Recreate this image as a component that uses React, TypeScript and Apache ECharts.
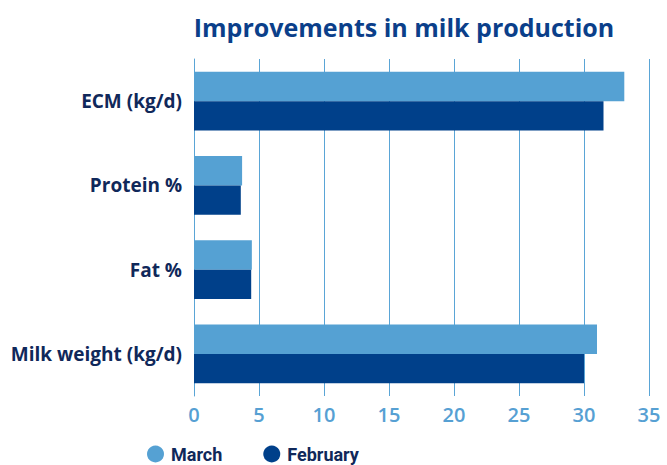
import React, { useEffect, useRef } from "react";
import * as echarts from "echarts";

const categories = ["Milk weight (kg/d)", "Fat %", "Protein %", "ECM (kg/d)"];
const march = [31.0, 4.45, 3.7, 33.1];
const february = [30.0, 4.4, 3.6, 31.5];
const xTicks = { min: 0, max: 35, interval: 5 };

export default function App() {
  const ref = useRef<HTMLDivElement>(null);
  useEffect(() => {
    const chart = echarts.init(ref.current!, null, { renderer: "svg" });
    const font = "'Open Sans', Roboto, 'DejaVu Sans', sans-serif";
    chart.setOption({
      animation: false,
      title: {
        text: "Improvements in milk production",
        left: 399,
        textAlign: "center",
        top: 9,
        textStyle: { fontFamily: font, fontSize: 25, fontWeight: 700, color: "#0b3f8a" },
      },
      legend: {
        left: 147,
        top: 445,
        padding: 0,
        icon: "circle",
        itemWidth: 17,
        itemHeight: 17,
        itemGap: 41,
        textStyle: { fontFamily: "Roboto, sans-serif", fontSize: 18, fontWeight: 700, lineHeight: 17, color: "#10285a", padding: [0, 0, 0, 2] },
        data: ["March", "February"],
      },
      grid: { left: 194, right: 18, top: 59, bottom: 69 },
      xAxis: {
        type: "value",
        min: xTicks.min,
        max: xTicks.max,
        interval: xTicks.interval,
        axisLine: { show: false },
        axisTick: { show: false },
        splitLine: { show: true, lineStyle: { color: "#5aa5d6", width: 1 } },
        axisLabel: { fontFamily: font, fontSize: 20, fontWeight: 600, color: "#56a0d3", margin: 8 },
      },
      yAxis: {
        type: "category",
        data: categories,
        axisLine: { show: true, lineStyle: { color: "#5aa5d6", width: 1 } },
        axisTick: { show: false },
        axisLabel: { fontFamily: font, fontSize: 19, fontWeight: 700, color: "#10285a", margin: 12 },
      },
      series: [
        {
          name: "March",
          type: "bar",
          data: march,
          barGap: "0%",
          barCategoryGap: "30%",
          itemStyle: { color: "#55a1d3" },
        },
        {
          name: "February",
          type: "bar",
          data: february,
          barGap: "0%",
          barCategoryGap: "30%",
          itemStyle: { color: "#00408a" },
        },
      ],
    });
    return () => chart.dispose();
  }, []);
  return (
    <div
      ref={ref}
      style={{ position: "absolute", left: 0, top: 0, width: 667, height: 465, background: "#fff" }}
    />
  );
}
